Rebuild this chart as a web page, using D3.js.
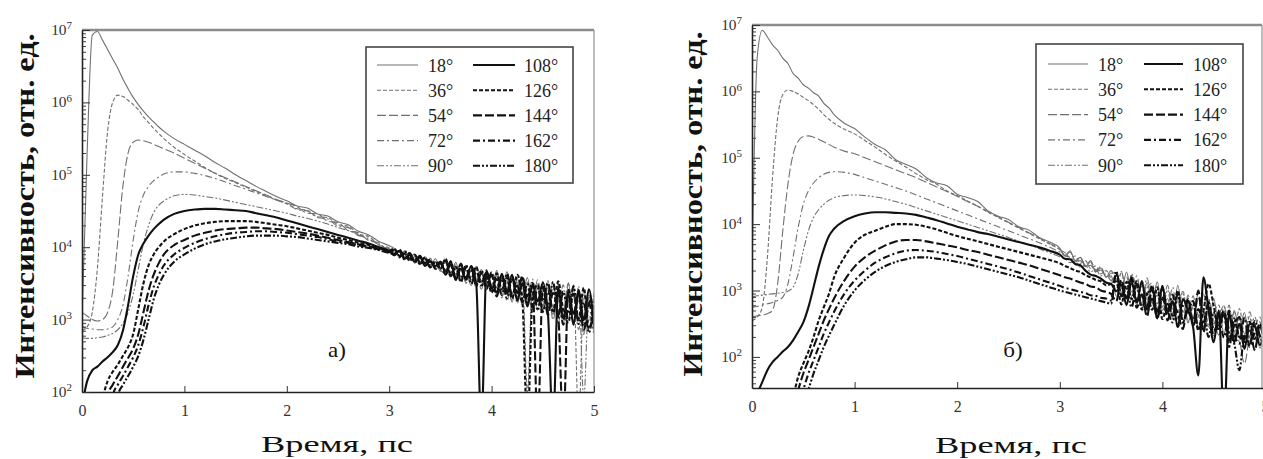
<!DOCTYPE html>
<html>
<head>
<meta charset="utf-8">
<script src="https://cdn.jsdelivr.net/npm/d3@7/dist/d3.min.js"></script>
<style>
  body { margin: 0; background: #fff; }
  svg, svg text { font-family: "Liberation Serif", LiberationSerif, Tinos, "Times New Roman", Times, "DejaVu Serif", serif; }
</style>
</head>
<body>
<svg id="fig" width="1263" height="459"></svg>
<script>
// ---- data: time grid (ps) and lg(intensity) ----
const timesHead = [0,0.05,0.1,0.15,0.2,0.25,0.3,0.35,0.4,0.45,0.5,0.55,0.6,0.65,0.7,0.75,0.8,
  0.9,1.0,1.1,1.2,1.3,1.4,1.5,1.6,1.7,1.8,1.9,2.0,2.1,2.2,2.3,2.4,2.5,2.6,2.7,2.8,2.9,3.0];
const timesTail = [3.05,3.1,3.15,3.2,3.25,3.3,3.35,3.4,3.45,3.5,3.55,3.6,3.65,3.7,3.75,3.8,3.85,3.9,3.95,4.0,
  4.05,4.1,4.15,4.2,4.25,4.3,4.35,4.4,4.45,4.5,4.55,4.6,4.65,4.7,4.75,4.8,4.85,4.9,4.95,5.0];
const times = timesHead.concat(timesTail);

const angleLabels = ['18°','36°','54°','72°','90°','108°','126°','144°','162°','180°'];
const xTicks = [0, 1, 2, 3, 4, 5];

// panel а)
const a18 = [3.0,5.3,6.93,6.98,6.86,6.73,6.6,6.47,6.32,6.19,6.07,5.97,5.88,5.8,5.73,5.66,5.6,5.5,5.42,5.34,
  5.26,5.17,5.09,5.0,4.92,4.84,4.77,4.7,4.64,4.57,4.54,4.46,4.43,4.35,4.31,4.22,4.17,4.08,4.02,
  3.98,3.87,3.95,3.85,3.91,3.77,3.83,3.72,3.84,3.71,3.82,3.62,3.79,3.55,3.68,3.47,3.74,3.51,3.65,3.40,
  3.68,3.38,3.54,3.24,3.57,3.35,3.58,3.18,3.43,3.09,3.54,3.12,3.30,2.93,3.49,3.08,3.36,2.79,3.27,2.85];
const a36 = [2.85,2.9,3.1,3.7,4.7,5.6,6.0,6.1,6.08,6.03,5.97,5.9,5.8,5.72,5.64,5.57,5.5,5.38,5.28,5.19,
  5.1,5.02,4.95,4.89,4.83,4.77,4.71,4.65,4.6,4.53,4.51,4.42,4.41,4.31,4.29,4.18,4.15,4.03,3.99,
  3.90,3.96,3.83,3.91,3.82,3.88,3.75,3.85,3.72,3.79,3.62,3.79,3.62,3.78,3.51,3.69,3.44,3.67,3.49,3.66,
  3.35,3.60,3.26,3.54,3.37,3.58,2.0,3.51,3.13,3.53,3.19,3.52,2.95,3.35,3.01,3.48,1.6,3.34,2.97,3.38];
const a54 = [3.1,3.05,3.0,2.98,3.0,3.1,3.4,4.1,4.85,5.3,5.45,5.48,5.47,5.45,5.42,5.39,5.36,5.3,5.23,5.16,
  5.09,5.02,4.96,4.9,4.84,4.78,4.72,4.66,4.61,4.56,4.47,4.46,4.36,4.34,4.23,4.2,4.09,4.06,3.94,
  3.95,3.85,3.93,3.82,3.90,3.79,3.85,3.74,3.79,3.67,3.85,3.65,3.75,3.53,3.73,3.52,3.65,3.42,3.67,3.48,
  3.62,3.30,3.66,3.36,3.52,3.20,3.52,3.26,3.55,3.19,3.49,2.99,3.40,3.13,3.51,2.98,3.26,2.84,3.34,2.98];
const a72 = [2.9,2.88,2.87,2.86,2.86,2.87,2.9,3.0,3.2,3.6,4.1,4.5,4.72,4.84,4.92,4.97,5.01,5.04,5.04,5.02,
  4.99,4.95,4.9,4.85,4.8,4.75,4.7,4.65,4.6,4.52,4.5,4.41,4.39,4.29,4.27,4.16,4.14,4.02,3.98,
  3.88,3.94,3.87,3.93,3.78,3.86,3.77,3.84,3.69,3.76,3.78,3.58,3.77,3.59,3.75,3.51,3.68,3.53,3.69,3.39,
  3.45,3.64,3.34,3.62,3.22,3.48,3.28,3.56,3.18,3.41,3.04,3.45,3.20,3.48,3.01,3.30,2.86,3.39,3.02,3.30];
const a90 = [2.75,2.74,2.74,2.75,2.76,2.78,2.81,2.86,2.95,3.1,3.35,3.7,4.05,4.3,4.48,4.58,4.64,4.71,4.73,4.72,
  4.7,4.68,4.65,4.62,4.59,4.56,4.53,4.5,4.47,4.43,4.4,4.36,4.32,4.27,4.23,4.17,4.11,4.04,3.97,
  3.97,3.89,3.94,3.82,3.87,3.76,3.87,3.76,3.80,3.68,3.64,3.82,3.63,3.75,3.50,3.67,3.51,3.69,3.45,3.60,
  3.60,3.33,3.51,3.26,3.58,3.30,3.43,3.16,3.51,3.23,3.44,3.07,3.50,3.08,3.26,2.93,3.46,1.9,3.32,2.80];
const a108 = [1.8,2.15,2.3,2.35,2.42,2.48,2.55,2.65,2.85,3.2,3.6,3.9,4.05,4.16,4.25,4.32,4.38,4.46,4.5,4.52,
  4.53,4.53,4.52,4.51,4.5,4.47,4.44,4.41,4.37,4.33,4.29,4.25,4.21,4.17,4.13,4.09,4.05,4.0,3.95,
  3.91,3.95,3.84,3.90,3.80,3.87,3.74,3.81,3.74,3.80,3.66,3.80,3.55,3.70,3.55,3.74,3.49,1.5,3.67,3.44,
  3.38,3.63,3.40,3.62,3.26,3.50,3.18,3.48,3.25,3.51,3.09,1.5,3.45,3.01,3.36,2.93,3.41,2.99,3.42,2.90];
const a126 = [1.5,1.5,1.5,1.5,1.9,2.15,2.28,2.38,2.5,2.62,2.8,3.15,3.5,3.75,3.9,4.0,4.08,4.18,4.25,4.3,
  4.33,4.35,4.36,4.36,4.36,4.35,4.33,4.31,4.29,4.26,4.23,4.2,4.17,4.13,4.1,4.06,4.03,3.99,3.95,
  3.98,3.88,3.91,3.81,3.89,3.80,3.86,3.73,3.79,3.70,3.84,3.63,3.73,3.52,3.72,3.56,3.73,3.47,3.60,3.37,
  3.64,3.42,3.58,3.29,3.62,3.28,1.5,3.31,3.48,3.11,3.39,3.12,3.53,3.13,2.96,3.38,3.01,3.44,2.87,3.22];
const a144 = [1.5,1.5,1.5,1.5,1.5,1.95,2.1,2.22,2.35,2.47,2.6,2.8,3.1,3.4,3.62,3.78,3.9,4.03,4.1,4.16,
  4.2,4.23,4.25,4.26,4.27,4.27,4.26,4.25,4.23,4.21,4.19,4.16,4.13,4.1,4.07,4.04,4.01,3.98,3.94,
  3.89,3.97,3.86,3.89,3.79,3.86,3.78,3.83,3.70,3.78,3.62,3.76,3.55,3.75,3.59,3.73,3.49,3.64,3.42,3.62,
  3.32,3.60,3.36,3.59,3.37,3.60,3.23,3.46,1.5,3.46,3.07,3.37,3.07,1.5,3.41,3.08,3.34,2.86,3.22,3.32];
const a162 = [1.5,1.5,1.5,1.5,1.5,1.5,1.95,2.1,2.22,2.35,2.48,2.65,2.9,3.2,3.45,3.62,3.75,3.9,3.99,4.06,
  4.11,4.15,4.18,4.2,4.21,4.22,4.22,4.21,4.2,4.18,4.16,4.14,4.11,4.08,4.06,4.03,4.0,3.97,3.93,
  3.96,3.86,3.95,3.84,3.86,3.77,3.84,3.72,3.81,3.71,3.81,3.60,3.71,3.57,3.76,3.49,3.66,3.52,3.65,3.42,
  3.56,3.34,3.64,3.34,3.47,3.24,3.50,3.16,3.43,3.26,3.51,3.09,3.35,2.93,3.36,3.06,3.38,2.94,3.22,2.82];
const a180 = [1.5,1.5,1.5,1.5,1.5,1.5,1.5,1.95,2.1,2.22,2.35,2.5,2.72,3.0,3.28,3.48,3.62,3.8,3.9,3.98,
  4.04,4.08,4.11,4.13,4.15,4.16,4.16,4.16,4.15,4.14,4.12,4.1,4.08,4.06,4.04,4.01,3.99,3.96,3.92,
  3.91,3.94,3.83,3.92,3.81,3.88,3.75,3.80,3.72,3.80,3.67,3.80,3.58,3.77,3.57,3.69,3.47,3.68,3.48,3.65,
  3.38,3.56,3.30,3.56,3.32,3.58,3.32,3.51,3.13,3.45,3.17,3.52,3.05,3.39,3.09,3.46,2.94,3.24,2.82,3.30];

// panel б)
const r18 = [3.3,6.5,6.92,6.82,6.7,6.62,6.5,6.42,6.27,6.2,6.1,6.05,5.98,5.93,5.82,5.75,5.65,5.52,
  5.44,5.31,5.2,5.12,4.97,4.9,4.83,4.7,4.62,4.58,4.45,4.4,4.34,4.2,4.12,4.07,3.96,3.91,3.8,3.73,3.64,
  3.53,3.60,3.45,3.50,3.36,3.43,3.28,3.34,3.20,3.26,3.27,2.97,3.28,2.98,3.08,2.77,3.12,2.81,3.13,2.70,
  2.88,2.58,3.08,2.67,2.85,2.45,2.88,2.70,2.45,2.88,2.48,2.70,2.23,2.70,2.43,2.67,2.23,2.50,2.13,2.50];
const r36 = [2.55,2.6,2.75,3.5,4.7,5.6,5.95,6.02,6.0,5.96,5.91,5.86,5.8,5.73,5.65,5.58,5.52,5.43,5.36,5.26,
  5.16,5.05,4.95,4.86,4.76,4.67,4.6,4.5,4.43,4.35,4.27,4.18,4.1,4.02,3.94,3.86,3.78,3.7,3.62,
  3.57,3.50,3.52,3.41,3.45,3.33,3.37,3.25,3.30,3.17,3.02,3.27,3.01,3.23,2.85,3.07,2.72,3.06,2.80,3.07,
  2.65,2.90,2.66,3.00,2.53,2.75,2.58,2.95,2.48,2.68,2.78,2.35,2.65,2.35,2.73,2.35,2.61,2.10,2.53,2.25];
const r54 = [2.6,2.62,2.63,2.65,2.7,3.1,3.9,4.6,5.05,5.25,5.32,5.33,5.31,5.28,5.24,5.2,5.16,5.1,5.06,5.0,
  4.94,4.88,4.82,4.76,4.7,4.63,4.56,4.49,4.42,4.34,4.27,4.19,4.11,4.03,3.95,3.87,3.79,3.71,3.62,
  3.52,3.58,3.44,3.50,3.38,3.45,3.30,3.36,3.21,3.30,3.17,3.29,2.91,3.11,2.78,3.15,2.89,2.71,3.03,2.75,
  3.08,2.72,2.83,2.50,2.93,2.58,2.96,2.45,2.73,2.55,2.33,2.77,2.43,2.68,2.28,1.90,2.31,2.45,2.60,2.15];
const r72 = [2.75,2.76,2.78,2.8,2.82,2.85,2.9,3.1,3.5,3.95,4.3,4.5,4.62,4.7,4.75,4.78,4.79,4.78,4.75,4.7,
  4.65,4.6,4.55,4.5,4.44,4.38,4.32,4.26,4.2,4.14,4.08,4.02,3.96,3.9,3.84,3.78,3.72,3.65,3.58,
  3.52,3.50,3.44,3.45,3.36,3.38,3.28,3.31,3.21,3.22,2.92,3.14,3.21,2.91,3.22,2.89,3.04,3.11,2.70,2.90,
  2.73,3.05,2.58,2.87,2.68,2.92,2.43,3.15,2.83,2.45,2.70,2.50,2.78,2.28,2.58,2.27,2.68,2.32,2.18,2.57];
const r90 = [2.9,2.92,2.93,2.94,2.95,2.96,2.97,2.99,3.05,3.25,3.6,3.9,4.1,4.22,4.3,4.36,4.4,4.43,4.44,4.43,
  4.41,4.38,4.34,4.3,4.25,4.2,4.15,4.1,4.05,4.0,3.95,3.9,3.85,3.8,3.74,3.69,3.63,3.57,3.51,
  3.48,3.42,3.44,3.35,3.38,3.28,3.32,3.22,3.25,3.15,3.22,3.04,2.88,3.25,3.02,2.82,3.19,2.81,2.93,2.65,
  3.01,2.65,2.86,2.95,2.51,2.80,2.63,2.45,2.88,2.50,2.63,2.77,2.35,2.60,2.23,2.60,2.38,2.60,2.28,2.13];
const r108 = [1.3,1.45,1.62,1.8,1.92,2.0,2.08,2.15,2.25,2.38,2.52,2.75,3.05,3.36,3.62,3.82,3.93,4.05,4.12,4.16,
  4.18,4.18,4.17,4.16,4.14,4.1,4.06,4.01,3.96,3.92,3.88,3.85,3.81,3.77,3.73,3.69,3.65,3.6,3.54,
  3.48,3.47,3.40,3.38,3.30,3.24,3.22,3.18,3.12,3.10,2.99,3.09,2.78,3.13,2.82,3.14,2.71,2.88,2.58,3.07,
  2.67,2.84,2.45,2.87,2.70,2.44,1.72,3.20,2.70,2.22,2.70,1.0,2.67,2.22,2.50,2.12,2.50,2.47,2.18,2.49];
const r126 = [1.2,1.2,1.2,1.2,1.2,1.2,1.2,1.2,1.4,1.7,1.9,2.08,2.3,2.55,2.75,2.95,3.2,3.5,3.72,3.84,
  3.9,3.96,4.0,4.0,3.99,3.96,3.92,3.87,3.82,3.78,3.74,3.7,3.66,3.62,3.58,3.54,3.5,3.46,3.41,
  3.37,3.34,3.30,3.28,3.23,3.20,3.16,3.14,3.08,3.10,3.14,2.79,3.13,2.87,3.14,2.71,2.96,2.71,3.05,2.57,
  2.80,2.62,3.00,2.52,2.73,2.82,2.40,2.69,3.10,2.77,2.40,2.65,2.15,2.57,2.30,2.27,2.53,2.27,2.50,2.12];
const r144 = [1.2,1.2,1.2,1.2,1.2,1.2,1.2,1.2,1.2,1.5,1.75,1.95,2.15,2.35,2.55,2.72,2.88,3.15,3.36,3.5,
  3.6,3.68,3.74,3.76,3.76,3.74,3.71,3.68,3.65,3.61,3.58,3.54,3.5,3.46,3.42,3.38,3.33,3.28,3.23,
  3.20,3.18,3.15,3.12,3.10,3.06,3.05,3.00,2.98,2.95,2.84,3.16,2.88,3.20,2.84,2.94,2.61,3.03,2.68,3.05,
  2.55,2.82,2.65,2.42,2.87,2.52,3.00,2.37,2.83,2.40,2.55,2.69,2.25,2.47,2.60,2.22,2.43,2.10,2.48,2.22];
const r162 = [1.2,1.2,1.2,1.2,1.2,1.2,1.2,1.2,1.2,1.2,1.5,1.75,1.95,2.15,2.35,2.52,2.68,2.95,3.15,3.3,
  3.42,3.5,3.56,3.6,3.61,3.6,3.58,3.55,3.52,3.48,3.44,3.4,3.36,3.32,3.27,3.22,3.17,3.12,3.07,
  3.04,3.02,3.00,2.98,2.96,2.93,2.92,2.89,2.88,2.85,3.26,2.93,3.08,3.15,2.74,2.94,2.76,3.08,2.60,2.89,
  2.70,2.94,2.45,2.77,2.85,2.47,2.72,2.52,2.80,2.30,2.60,2.29,2.70,2.34,2.20,2.59,2.15,2.37,2.45,2.15];
const r180 = [1.2,1.2,1.2,1.2,1.2,1.2,1.2,1.2,1.2,1.2,1.2,1.5,1.75,1.95,2.15,2.32,2.48,2.78,3.0,3.16,
  3.28,3.37,3.43,3.47,3.5,3.5,3.48,3.46,3.43,3.4,3.36,3.32,3.28,3.24,3.2,3.15,3.1,3.05,3.0,
  2.98,2.96,2.94,2.92,2.90,2.88,2.86,2.84,2.82,2.80,3.29,2.91,3.03,2.75,3.10,2.74,2.94,3.03,2.58,2.87,
  2.70,2.52,2.95,2.57,2.70,2.84,2.42,2.67,2.30,2.67,2.45,2.67,2.35,2.20,1.80,2.32,2.17,2.54,2.32,2.12];

// ---- styles ----
const serif = '"Liberation Serif", LiberationSerif, Tinos, "Times New Roman", Times, "DejaVu Serif", serif';
const thin = '#707070', thick = '#111';
const lineStyles = [
  { w: 1.1, c: thin, dash: null },
  { w: 1.1, c: thin, dash: '4,2' },
  { w: 1.1, c: thin, dash: '9,3' },
  { w: 1.1, c: thin, dash: '7,3,2,3' },
  { w: 1.1, c: thin, dash: '7,2,2,2,2,2' },
  { w: 2.1, c: thick, dash: null },
  { w: 2.1, c: thick, dash: '4,2' },
  { w: 2.1, c: thick, dash: '9,3' },
  { w: 2.1, c: thick, dash: '7,3,2,3' },
  { w: 2.1, c: thick, dash: '7,2,2,2,2,2' }
];

const panels = [
  { series: [a18, a36, a54, a72, a90, a108, a126, a144, a162, a180],
    left: 82, right: 594, top: 30, bottom: 392, yMin: 100, frameRight: 594,
    tag: 'а)', tagX: 337, tagY: 357, titleX: 337, titleY: 452, yTitleX: 24, yTitleY: 206,
    legend: { x: 366, y: 47, w: 207, h: 136, row0: 65, step: 25.2, c1: [377, 418, 428], c2: [473, 515, 524] } },
  { series: [r18, r36, r54, r72, r90, r108, r126, r144, r162, r180],
    left: 752, right: 1265, top: 25, bottom: 388, yMin: 34, frameRight: 1262,
    tag: 'б)', tagX: 1013, tagY: 357, titleX: 1011, titleY: 453, yTitleX: 692, yTitleY: 204,
    legend: { x: 1036, y: 44, w: 207, h: 140, row0: 64, step: 25.3, c1: [1048, 1088, 1098], c2: [1144, 1183, 1193] } }
];

const svg = d3.select('#fig').style('font-family', serif);
const defs = svg.append('defs');

function drawPanel(p, k) {
  const x = d3.scaleLinear().domain([0, 5]).range([p.left, p.right]);
  const y = d3.scaleLog().domain([p.yMin, 1e7]).range([p.bottom, p.top]);
  const g = svg.append('g');

  defs.append('clipPath').attr('id', 'clip' + k).append('rect')
    .attr('x', p.left).attr('y', p.top)
    .attr('width', p.frameRight - p.left).attr('height', p.bottom - p.top);

  // curves
  const line = d3.line()
    .x(d => x(d[0]))
    .y(d => y(Math.pow(10, d[1])))
    .curve(d3.curveMonotoneX);
  const curves = g.append('g').attr('clip-path', `url(#clip${k})`);
  p.series.forEach((s, i) => {
    const pts = times.map((t, j) => [t, s[j]]).filter(d => d[1] != null);
    const st = lineStyles[i];
    curves.append('path')
      .attr('d', line(pts))
      .attr('fill', 'none')
      .attr('stroke', st.c)
      .attr('stroke-width', st.w)
      .attr('stroke-dasharray', st.dash);
  });

  // frame: top and right
  g.append('line').attr('x1', p.left).attr('x2', p.frameRight).attr('y1', p.top).attr('y2', p.top)
    .attr('stroke', '#8c8c8c').attr('stroke-width', 2.5);
  g.append('line').attr('x1', p.frameRight).attr('x2', p.frameRight).attr('y1', p.top).attr('y2', p.bottom)
    .attr('stroke', '#9a9a9a').attr('stroke-width', 1.3);

  // x axis
  const gx = g.append('g').attr('transform', `translate(0,${p.bottom})`)
    .call(d3.axisBottom(x).tickValues(xTicks).tickSize(-6).tickSizeOuter(0).tickPadding(13)
      .tickFormat(d3.format('d')));
  gx.attr('font-size', 16).attr('font-family', serif);
  gx.select('.domain').attr('stroke', '#222').attr('stroke-width', 1.6);
  gx.selectAll('.tick line').attr('stroke', '#333');
  gx.selectAll('text').attr('fill', '#333').style('font-family', serif);

  // y axis: minor ticks
  const lo = Math.floor(Math.log10(p.yMin));
  const minors = [];
  for (let e = lo; e < 7; e++) {
    for (let m = 2; m <= 9; m++) {
      const v = m * Math.pow(10, e);
      if (v >= p.yMin && v <= 1e7) minors.push(v);
    }
  }
  const majors = d3.range(Math.ceil(Math.log10(p.yMin)), 8).map(e => Math.pow(10, e));
  const gm = g.append('g').attr('transform', `translate(${p.left},0)`)
    .call(d3.axisLeft(y).tickValues(minors).tickSize(-4).tickSizeOuter(0).tickFormat(''));
  gm.select('.domain').remove();
  gm.selectAll('.tick line').attr('stroke', '#444');

  const gy = g.append('g').attr('transform', `translate(${p.left},0)`)
    .call(d3.axisLeft(y).tickValues(majors).tickSize(-8).tickSizeOuter(0).tickPadding(10));
  gy.attr('font-family', serif).attr('font-size', 14);
  gy.select('.domain').attr('stroke', '#222').attr('stroke-width', 1.6);
  gy.selectAll('.tick line').attr('stroke', '#333');
  gy.selectAll('.tick text').each(function (d) {
    const t = d3.select(this).text('').attr('fill', '#333').style('font-family', serif)
      .attr('transform', 'scale(1.1,1)')
      .attr('x', -10 / 1.1);
    t.append('tspan').text('10');
    t.append('tspan').attr('dy', '-0.55em').attr('font-size', 10).text(Math.round(Math.log10(d)));
  });

  // axis titles
  g.append('text')
    .attr('transform', `translate(${p.yTitleX},${p.yTitleY}) scale(1.2,1) rotate(-90)`)
    .attr('text-anchor', 'middle').attr('dominant-baseline', 'central')
    .attr('font-size', 23).attr('font-weight', 'bold').attr('fill', '#111')
    .style('font-family', serif)
    .attr('textLength', 345).attr('lengthAdjust', 'spacingAndGlyphs')
    .text('Интенсивность, отн. ед.');
  g.append('text')
    .attr('transform', `translate(${p.titleX},${p.titleY})`)
    .attr('text-anchor', 'middle')
    .attr('font-size', 24).attr('fill', '#111')
    .style('font-family', serif)
    .attr('textLength', 152).attr('lengthAdjust', 'spacingAndGlyphs')
    .text('Время, пс');
  g.append('text')
    .attr('transform', `translate(${p.tagX},${p.tagY}) scale(1.15,1)`)
    .attr('text-anchor', 'middle')
    .attr('font-size', 20).attr('fill', '#111')
    .style('font-family', serif)
    .text(p.tag);

  // legend
  const L = p.legend;
  const lg = g.append('g');
  lg.append('rect').attr('x', L.x).attr('y', L.y).attr('width', L.w).attr('height', L.h)
    .attr('fill', '#fff').attr('stroke', '#444').attr('stroke-width', 1.6);
  angleLabels.forEach((lab, i) => {
    const col = i < 5 ? L.c1 : L.c2;
    const yy = L.row0 + (i % 5) * L.step;
    const st = lineStyles[i];
    lg.append('line').attr('x1', col[0]).attr('x2', col[1]).attr('y1', yy).attr('y2', yy)
      .attr('stroke', st.c).attr('stroke-width', st.w).attr('stroke-dasharray', st.dash);
    lg.append('text')
      .attr('x', col[2]).attr('y', yy + 6.5)
      .attr('font-size', 18).attr('fill', '#222')
      .style('font-family', serif)
      .text(lab);
  });
}

panels.forEach(drawPanel);
</script>
</body>
</html>
